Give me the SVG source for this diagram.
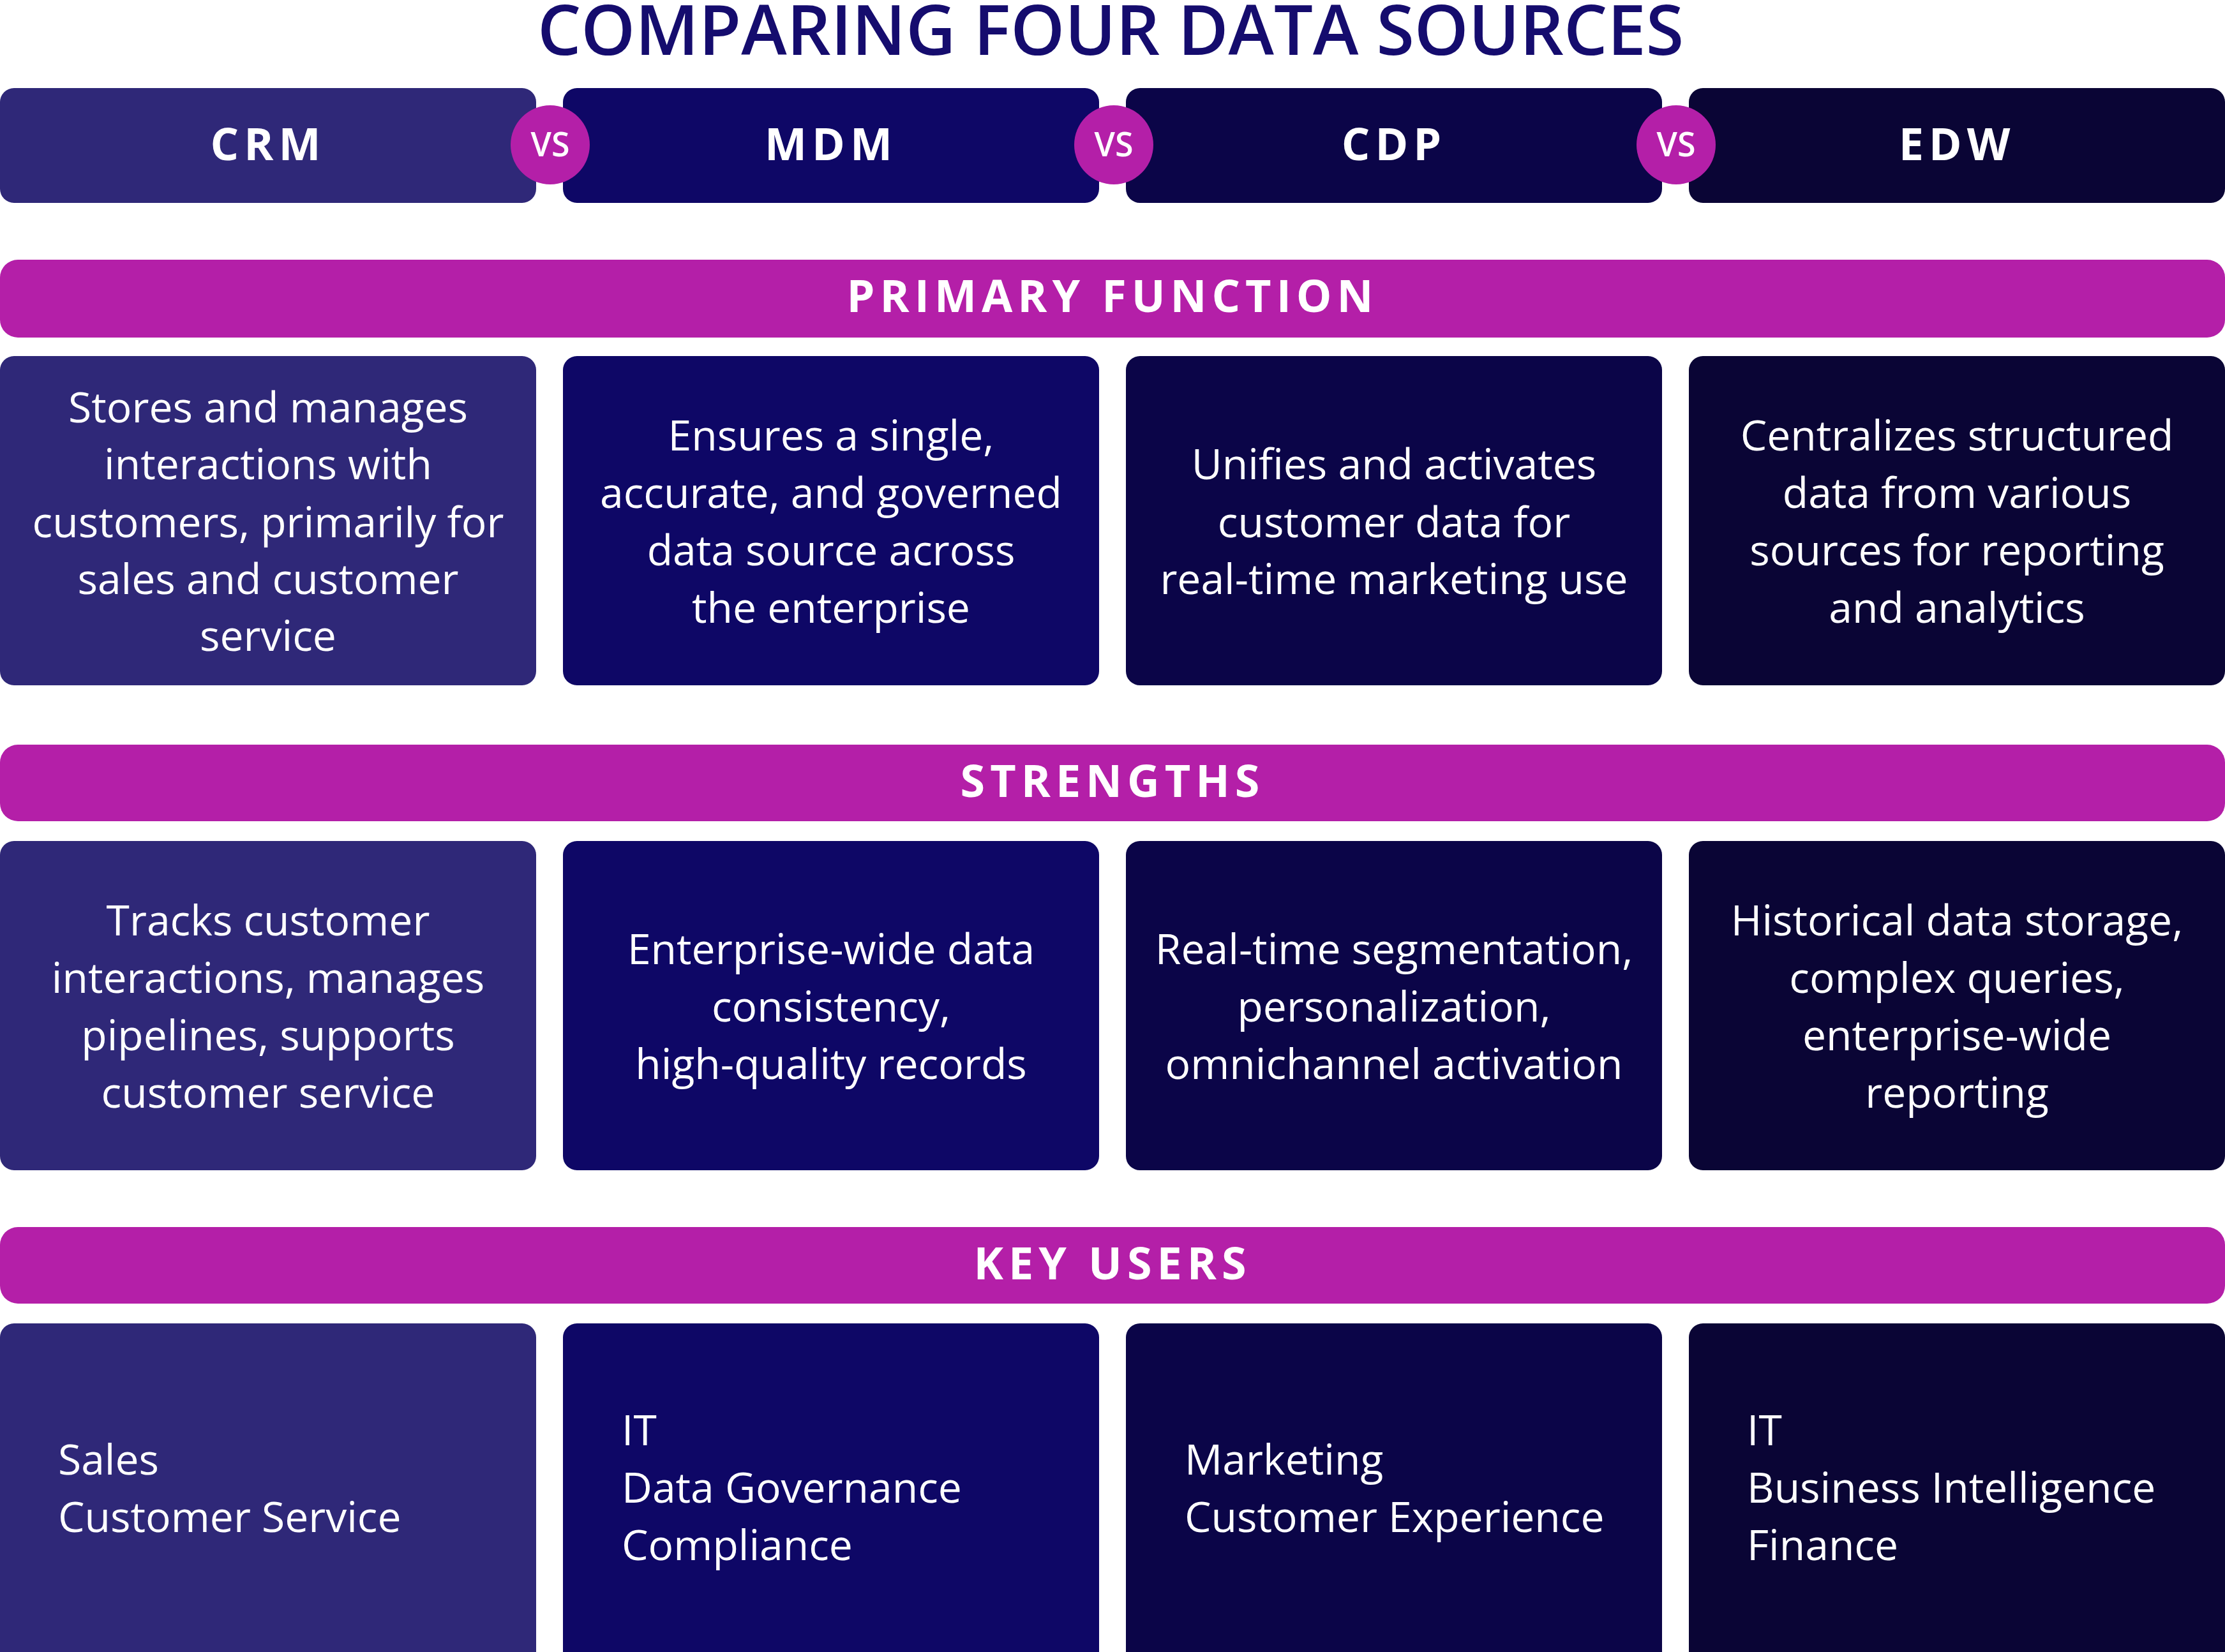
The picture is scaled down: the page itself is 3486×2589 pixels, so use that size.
<svg xmlns="http://www.w3.org/2000/svg" width="3486" height="2589" viewBox="0 0 3486 2589">
<style>
.t{font-family:"Open Sans","Liberation Sans",sans-serif;fill:#fff;font-size:66px;text-anchor:middle}
.l{text-anchor:start}
.h{font-family:"Open Sans","Liberation Sans",sans-serif;fill:#fff;font-size:70px;font-weight:700;letter-spacing:8px;text-anchor:middle}
.vs{font-family:"Open Sans","Liberation Sans",sans-serif;fill:#fff;font-size:52px;font-weight:600;text-anchor:middle}
.c1{fill:#2F2878}.c2{fill:#0E0766}.c3{fill:#0B0548}.c4{fill:#0A0535}.bar{fill:#B41FA8}
</style>
<rect width="3486" height="2589" fill="#fff"/>
<text x="1740" y="86" font-family="'Open Sans','Liberation Sans',sans-serif" font-size="108" font-weight="600" fill="#150C6E" text-anchor="middle">COMPARING FOUR DATA SOURCES</text>
<g id="hdr-crm"><rect class="c1" x="0" y="138" width="840" height="180" rx="22"/><text class="h" x="420" y="251">CRM</text></g>
<g id="hdr-mdm"><rect class="c2" x="882" y="138" width="840" height="180" rx="22"/><text class="h" x="1302" y="251">MDM</text></g>
<g id="hdr-cdp"><rect class="c3" x="1764" y="138" width="840" height="180" rx="22"/><text class="h" x="2184" y="251">CDP</text></g>
<g id="hdr-edw"><rect class="c4" x="2646" y="138" width="840" height="180" rx="22"/><text class="h" x="3066" y="251">EDW</text></g>
<g id="vs1"><circle class="bar" cx="862" cy="227" r="62"/><text class="vs" x="862" y="245">VS</text></g>
<g id="vs2"><circle class="bar" cx="1745" cy="227" r="62"/><text class="vs" x="1745" y="245">VS</text></g>
<g id="vs3"><circle class="bar" cx="2626" cy="227" r="62"/><text class="vs" x="2626" y="245">VS</text></g>
<g id="bar1"><rect class="bar" x="0" y="407" width="3486" height="122" rx="28"/><text class="h" x="1743" y="489">PRIMARY FUNCTION</text></g>
<g id="bar2"><rect class="bar" x="0" y="1167" width="3486" height="120" rx="28"/><text class="h" x="1743" y="1249">STRENGTHS</text></g>
<g id="bar3"><rect class="bar" x="0" y="1923" width="3486" height="120" rx="28"/><text class="h" x="1743" y="2005">KEY USERS</text></g>
<g id="pf-crm"><rect class="c1" x="0" y="558" width="840" height="516" rx="22"/><text class="t" x="420"><tspan x="420" y="662">Stores and manages</tspan><tspan x="420" y="751">interactions with</tspan><tspan x="420" y="842">customers, primarily for</tspan><tspan x="420" y="931">sales and customer</tspan><tspan x="420" y="1020">service</tspan></text></g>
<g id="pf-mdm"><rect class="c2" x="882" y="558" width="840" height="516" rx="22"/><text class="t"><tspan x="1302" y="706">Ensures a single,</tspan><tspan x="1302" y="796">accurate, and governed</tspan><tspan x="1302" y="886">data source across</tspan><tspan x="1302" y="976">the enterprise</tspan></text></g>
<g id="pf-cdp"><rect class="c3" x="1764" y="558" width="840" height="516" rx="22"/><text class="t"><tspan x="2184" y="751">Unifies and activates</tspan><tspan x="2184" y="842">customer data for</tspan><tspan x="2184" y="931">real-time marketing use</tspan></text></g>
<g id="pf-edw"><rect class="c4" x="2646" y="558" width="840" height="516" rx="22"/><text class="t"><tspan x="3066" y="706">Centralizes structured</tspan><tspan x="3066" y="796">data from various</tspan><tspan x="3066" y="886">sources for reporting</tspan><tspan x="3066" y="976">and analytics</tspan></text></g>
<g id="st-crm"><rect class="c1" x="0" y="1318" width="840" height="516" rx="22"/><text class="t"><tspan x="420" y="1466">Tracks customer</tspan><tspan x="420" y="1556">interactions, manages</tspan><tspan x="420" y="1646">pipelines, supports</tspan><tspan x="420" y="1736">customer service</tspan></text></g>
<g id="st-mdm"><rect class="c2" x="882" y="1318" width="840" height="516" rx="22"/><text class="t"><tspan x="1302" y="1511">Enterprise-wide data</tspan><tspan x="1302" y="1601">consistency,</tspan><tspan x="1302" y="1691">high-quality records</tspan></text></g>
<g id="st-cdp"><rect class="c3" x="1764" y="1318" width="840" height="516" rx="22"/><text class="t"><tspan x="2184" y="1511">Real-time segmentation,</tspan><tspan x="2184" y="1601">personalization,</tspan><tspan x="2184" y="1691">omnichannel activation</tspan></text></g>
<g id="st-edw"><rect class="c4" x="2646" y="1318" width="840" height="516" rx="22"/><text class="t"><tspan x="3066" y="1466">Historical data storage,</tspan><tspan x="3066" y="1556">complex queries,</tspan><tspan x="3066" y="1646">enterprise-wide</tspan><tspan x="3066" y="1736">reporting</tspan></text></g>
<g id="ku-crm"><rect class="c1" x="0" y="2074" width="840" height="540" rx="22"/><text class="t l"><tspan x="91" y="2311">Sales</tspan><tspan x="91" y="2401">Customer Service</tspan></text></g>
<g id="ku-mdm"><rect class="c2" x="882" y="2074" width="840" height="540" rx="22"/><text class="t l"><tspan x="974" y="2265">IT</tspan><tspan x="974" y="2355">Data Governance</tspan><tspan x="974" y="2445">Compliance</tspan></text></g>
<g id="ku-cdp"><rect class="c3" x="1764" y="2074" width="840" height="540" rx="22"/><text class="t l"><tspan x="1856" y="2311">Marketing</tspan><tspan x="1856" y="2401">Customer Experience</tspan></text></g>
<g id="ku-edw"><rect class="c4" x="2646" y="2074" width="840" height="540" rx="22"/><text class="t l"><tspan x="2737" y="2265">IT</tspan><tspan x="2737" y="2355">Business Intelligence</tspan><tspan x="2737" y="2445">Finance</tspan></text></g>
<g id="connectors"/>
</svg>
